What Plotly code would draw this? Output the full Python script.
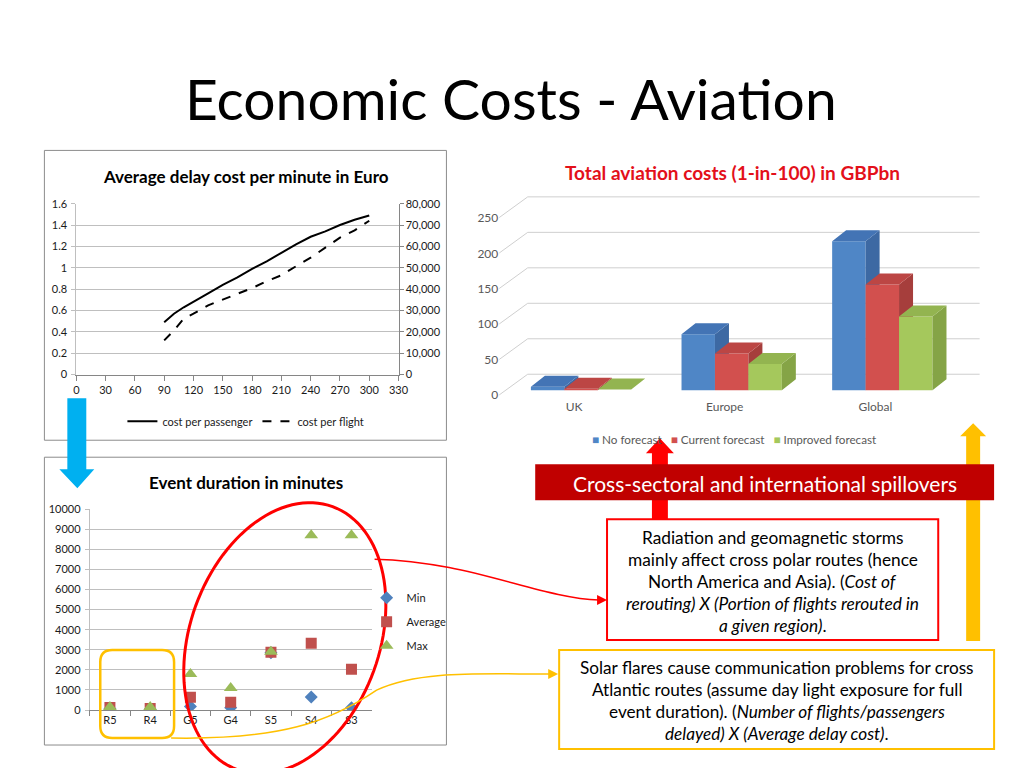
import numpy as np
import plotly.graph_objects as go

W, H = 1024, 768
FONT = "Lato"

# --- chart 1: average delay cost per minute ---
minutes = [90, 100, 110, 120, 135, 150, 165, 180, 195, 210, 225, 240, 255, 270, 285, 300]
cost_passenger = [0.49, 0.57, 0.63, 0.68, 0.76, 0.84, 0.91, 0.99, 1.06, 1.14, 1.22, 1.29, 1.34, 1.40, 1.45, 1.49]
cost_flight = [16000, 20700, 26200, 28500, 32400, 35100, 37600, 40500, 43700, 46500,
               50700, 54700, 59400, 64100, 67500, 72000]

# --- chart 2: event duration in minutes ---
events = ["R5", "R4", "G5", "G4", "S5", "S4", "S3"]
dur_min = [60, 40, 180, 120, 2850, 650, 120]
dur_avg = [130, 80, 640, 390, 2880, 3330, 2030]
dur_max = [150, 150, 1800, 1100, 2900, 8700, 8700]

# --- chart 3: total aviation costs ---
regions = ["UK", "Europe", "Global"]
no_forecast = [5, 79, 210]
current_forecast = [2, 52, 149]
improved_forecast = [1, 37, 104]

# the page comes out slightly shrunk and shifted in the screenshot, undo that here
SX, OX = 0.9897, 2.5
SY, OY = 0.9837, 6.5


def px(x):
    return (x - OX) / SX / W


def py(y):
    return 1 - (y - OY) / SY / H


def path(points, close=True):
    s = "M " + " L ".join(f"{px(x):.5f},{py(y):.5f}" for x, y in points)
    return s + (" Z" if close else "")


fig = go.Figure()

# chart 1 lines
fig.add_trace(go.Scatter(x=minutes, y=cost_passenger, mode="lines", name="cost per passenger",
                         line=dict(color="black", width=2), xaxis="x", yaxis="y", legend="legend"))
fig.add_trace(go.Scatter(x=minutes, y=cost_flight, mode="lines", name="cost per flight",
                         line=dict(color="black", width=2, dash="dash"), xaxis="x", yaxis="y2",
                         legend="legend"))

# chart 2 markers
for name, vals, sym, col, size in [("Min", dur_min, "diamond", "#4F81BD", 10),
                                   ("Average", dur_avg, "square", "#C0504D", 11),
                                   ("Max", dur_max, "triangle-up", "#9BBB59", 12)]:
    fig.add_trace(go.Scatter(x=events, y=vals, mode="markers", name=name, legendgroup=name,
                             marker=dict(symbol=sym, color=col, size=size),
                             xaxis="x2", yaxis="y3", legend="legend2"))

# chart 3 pseudo-3D bars
bar_w = 0.222
shift = 0.046
base = 7.0
ddx, ddy = 0.093, 15.5
wall_dx, wall_dy = 0.192, 29.6

# back wall gridlines and left diagonals
gx, gy = [], []
for v in range(0, 251, 50):
    gx += [-0.5, -0.5 + wall_dx, 2.5 + wall_dx, None]
    gy += [v, v + wall_dy, v + wall_dy, None]
fig.add_trace(go.Scatter(x=gx, y=gy, mode="lines", line=dict(color="#CFCFCF", width=1),
                         showlegend=False, hoverinfo="skip", xaxis="x3", yaxis="y4"))

series = [("No forecast", no_forecast, "#4F86C6", "#4374B5", "#3D69A3"),
          ("Current forecast", current_forecast, "#D2504E", "#BC4644", "#A63E3C"),
          ("Improved forecast", improved_forecast, "#A5C85C", "#93B450", "#85A446")]
for j, (name, vals, c_front, c_top, c_side) in enumerate(series):
    fx, fy, tx, ty, sx, sy = [], [], [], [], [], []
    for i, v in enumerate(vals):
        x0 = i - 1.5 * bar_w + shift + j * bar_w
        x1 = x0 + bar_w
        top = base + v
        fx += [x0, x1, x1, x0, x0, None]
        fy += [base, base, top, top, base, None]
        tx += [x0, x1, x1 + ddx, x0 + ddx, x0, None]
        ty += [top, top, top + ddy, top + ddy, top, None]
        sx += [x1, x1 + ddx, x1 + ddx, x1, x1, None]
        sy += [base, base + ddy, top + ddy, top, base, None]
    for xs, ys, col in [(fx, fy, c_front), (sx, sy, c_side), (tx, ty, c_top)]:
        fig.add_trace(go.Scatter(x=xs, y=ys, mode="lines", fill="toself", fillcolor=col,
                                 line=dict(width=0, color=col), showlegend=False,
                                 hoverinfo="skip", xaxis="x3", yaxis="y4"))

# legend of chart 3, Excel style (square glyph right before the label)
legend3_text = "   ".join(f"<span style='color:{c}'>■</span> {n}" for n, _, c, _, _ in series)

tick_font = dict(family=FONT, size=11, color="#1a1a1a")
tick_font3 = dict(family=FONT, size=12, color="#595959")
grid = "#BFBFBF"

shapes = []
# chart frames
for (x0, y0, x1, y1) in [(44, 150, 447, 440), (44, 457, 447, 745)]:
    shapes.append(dict(type="rect", xref="paper", yref="paper", x0=px(x0), x1=px(x1),
                       y0=py(y1), y1=py(y0), line=dict(color="#8C8C8C", width=1), layer="below"))
# blue arrow
shapes.append(dict(type="path", xref="paper", yref="paper", fillcolor="#00B0F0", line=dict(width=0),
                   path=path([(67, 398), (86, 398), (86, 469), (94, 469), (77, 488), (59, 469), (67, 469)])))
# red arrow
shapes.append(dict(type="path", xref="paper", yref="paper", fillcolor="#FF0000", line=dict(width=0),
                   path=path([(653, 520), (653, 453), (647, 453), (661, 438), (675, 453), (669, 453), (669, 520)])))
# yellow arrow
shapes.append(dict(type="path", xref="paper", yref="paper", fillcolor="#FFC000", line=dict(width=0),
                   path=path([(968, 641), (968, 436), (962, 436), (975, 423), (988, 436), (982, 436), (982, 641)])))
# banner
shapes.append(dict(type="rect", xref="paper", yref="paper", x0=px(536), x1=px(996), y0=py(500), y1=py(464),
                   fillcolor="#C00000", line=dict(width=0)))
# text boxes
shapes.append(dict(type="rect", xref="paper", yref="paper", x0=px(608), x1=px(940), y0=py(640), y1=py(519),
                   fillcolor="white", line=dict(color="#FF0000", width=2)))
shapes.append(dict(type="rect", xref="paper", yref="paper", x0=px(560), x1=px(996), y0=py(749), y1=py(650),
                   fillcolor="white", line=dict(color="#FFC000", width=2)))

# red ellipse
t = np.linspace(0, 2 * np.pi, 121)
ang = np.deg2rad(20)
ux, uy = np.sin(ang), -np.cos(ang)
vx, vy = np.cos(ang), np.sin(ang)
ex = 285 + 140 * np.cos(t) * ux + 95 * np.sin(t) * vx
ey = 638 + 140 * np.cos(t) * uy + 95 * np.sin(t) * vy
shapes.append(dict(type="path", xref="paper", yref="paper", line=dict(color="#FF0000", width=3),
                   path=path(list(zip(ex, ey)))))

# yellow rounded rectangle
r = 12
rr = (f"M {px(100 + r)},{py(650)} L {px(174 - r)},{py(650)} Q {px(174)},{py(650)} {px(174)},{py(650 + r)} "
      f"L {px(174)},{py(738 - r)} Q {px(174)},{py(738)} {px(174 - r)},{py(738)} "
      f"L {px(100 + r)},{py(738)} Q {px(100)},{py(738)} {px(100)},{py(738 - r)} "
      f"L {px(100)},{py(650 + r)} Q {px(100)},{py(650)} {px(100 + r)},{py(650)} Z")
shapes.append(dict(type="path", xref="paper", yref="paper", line=dict(color="#FFC000", width=2.5), path=rr))

# connectors
red_c = (f"M {px(375)},{py(559)} C {px(470)},{py(561)} {px(540)},{py(598)} {px(600)},{py(600)}")
shapes.append(dict(type="path", xref="paper", yref="paper", line=dict(color="#FF0000", width=1.5), path=red_c))
shapes.append(dict(type="path", xref="paper", yref="paper", fillcolor="#FF0000", line=dict(width=0),
                   path=path([(598, 595), (608, 600), (598, 605)])))
yel_c = (f"M {px(171)},{py(738)} C {px(280)},{py(740)} {px(330)},{py(722)} {px(377)},{py(690)} "
         f"C {px(420)},{py(670)} {px(480)},{py(674)} {px(550)},{py(674)}")
shapes.append(dict(type="path", xref="paper", yref="paper", line=dict(color="#FFC000", width=1.5), path=yel_c))
shapes.append(dict(type="path", xref="paper", yref="paper", fillcolor="#FFC000", line=dict(width=0),
                   path=path([(549, 669), (559, 674), (549, 679)])))

annotations = [
    dict(text="Economic Costs - Aviation", x=px(512), y=py(98), font=dict(family=FONT, size=57, color="black")),
    dict(text="<b>Average delay cost per minute in Euro</b>", x=px(246), y=py(176),
         font=dict(family=FONT, size=17, color="black")),
    dict(text="<b>Event duration in minutes</b>", x=px(246), y=py(482),
         font=dict(family=FONT, size=17, color="black")),
    dict(text="<b>Total aviation costs (1-in-100) in GBPbn</b>", x=px(734), y=py(172),
         font=dict(family=FONT, size=19, color="#E3101A")),
    dict(text="Cross-sectoral and international spillovers", x=px(766), y=py(483),
         font=dict(family=FONT, size=21, color="white")),
    dict(text=legend3_text, x=px(736), y=py(439), font=dict(family=FONT, size=11.7, color="#595959")),
]
red_lines = ["Radiation and geomagnetic storms",
             "mainly affect cross polar routes (hence",
             "North America and Asia). (<i>Cost of</i>",
             "<i>rerouting) X (Portion of flights rerouted in</i>",
             "<i>a given region)</i>."]
for k, ln in enumerate(red_lines):
    annotations.append(dict(text=ln, x=px(774), y=py(537 + 22.2 * k), font=dict(family=FONT, size=17.3, color="black")))
yel_lines = ["Solar flares cause communication problems for cross",
             "Atlantic routes (assume day light exposure for full",
             "event duration). (<i>Number of flights/passengers</i>",
             "<i>delayed) X (Average delay cost)</i>."]
for k, ln in enumerate(yel_lines):
    annotations.append(dict(text=ln, x=px(778), y=py(667 + 22.3 * k), font=dict(family=FONT, size=17.2, color="black")))
for a in annotations:
    a.update(xref="paper", yref="paper", showarrow=False, xanchor="center", yanchor="middle")

fig.update_layout(
    width=W, height=H, margin=dict(l=0, r=0, t=0, b=0),
    paper_bgcolor="white", plot_bgcolor="rgba(0,0,0,0)",
    font=dict(family=FONT),
    # chart 1
    xaxis=dict(domain=[px(76), px(399)], range=[0, 330], dtick=30, showgrid=False, zeroline=False,
               showline=True, linecolor="#868686", ticks="outside", ticklen=5, tickcolor="#868686",
               tickfont=tick_font, anchor="y"),
    yaxis=dict(domain=[py(374.3), py(203.3)], range=[0, 1.6], dtick=0.2, gridcolor=grid, zeroline=False,
               showline=True, linecolor="#BFBFBF", ticks="outside", ticklen=4, tickcolor="#BFBFBF",
               tickfont=tick_font, ticklabelstandoff=2, anchor="x"),
    yaxis2=dict(overlaying="y", side="right", anchor="x", range=[0, 80000], dtick=10000, tickformat=",",
                showgrid=False, zeroline=False, showline=True, linecolor="#868686", ticks="outside",
                ticklen=4, tickcolor="#868686", tickfont=tick_font),
    # chart 2
    xaxis2=dict(domain=[px(89.5), px(372)], range=[-0.5, 6.5], type="category", anchor="y3",
                showgrid=False, zeroline=False, showline=True, linecolor="#868686", ticks="outside",
                tickson="boundaries", ticklen=5, tickcolor="#868686", tickfont=tick_font),
    yaxis3=dict(domain=[py(710), py(509)], range=[0, 10000], dtick=1000, tickformat="d", gridcolor=grid,
                zeroline=False, showline=True, linecolor="#BFBFBF", ticks="outside", ticklen=4,
                tickcolor="#BFBFBF", tickfont=tick_font, ticklabelstandoff=2, anchor="x2"),
    # chart 3
    xaxis3=dict(domain=[px(500), px(990)], range=[(500 - 575) / 151, (990 - 575) / 151], anchor="y4",
                tickvals=[0, 1, 2], ticktext=regions, showgrid=False, zeroline=False, showline=False,
                tickfont=tick_font3),
    yaxis4=dict(domain=[py(398), py(185)], range=[(395 - 398) * 1.4085, (395 - 185) * 1.4085], anchor="x3",
                tickvals=[0, 50, 100, 150, 200, 250], showgrid=False, zeroline=False, showline=False,
                tickfont=tick_font3),
    legend=dict(orientation="h", x=px(246), xanchor="center", y=py(421), yanchor="middle",
                font=dict(family=FONT, size=11, color="#1a1a1a"), bgcolor="rgba(0,0,0,0)"),
    legend2=dict(x=px(367), xanchor="left", y=py(583), yanchor="top", tracegroupgap=5, itemwidth=30,
                 font=dict(family=FONT, size=11, color="#1a1a1a"), bgcolor="rgba(0,0,0,0)"),
    shapes=shapes, annotations=annotations,
)

fig.write_html("out.html", config={"displayModeBar": False},
               post_script="document.body.style.margin='0';")
